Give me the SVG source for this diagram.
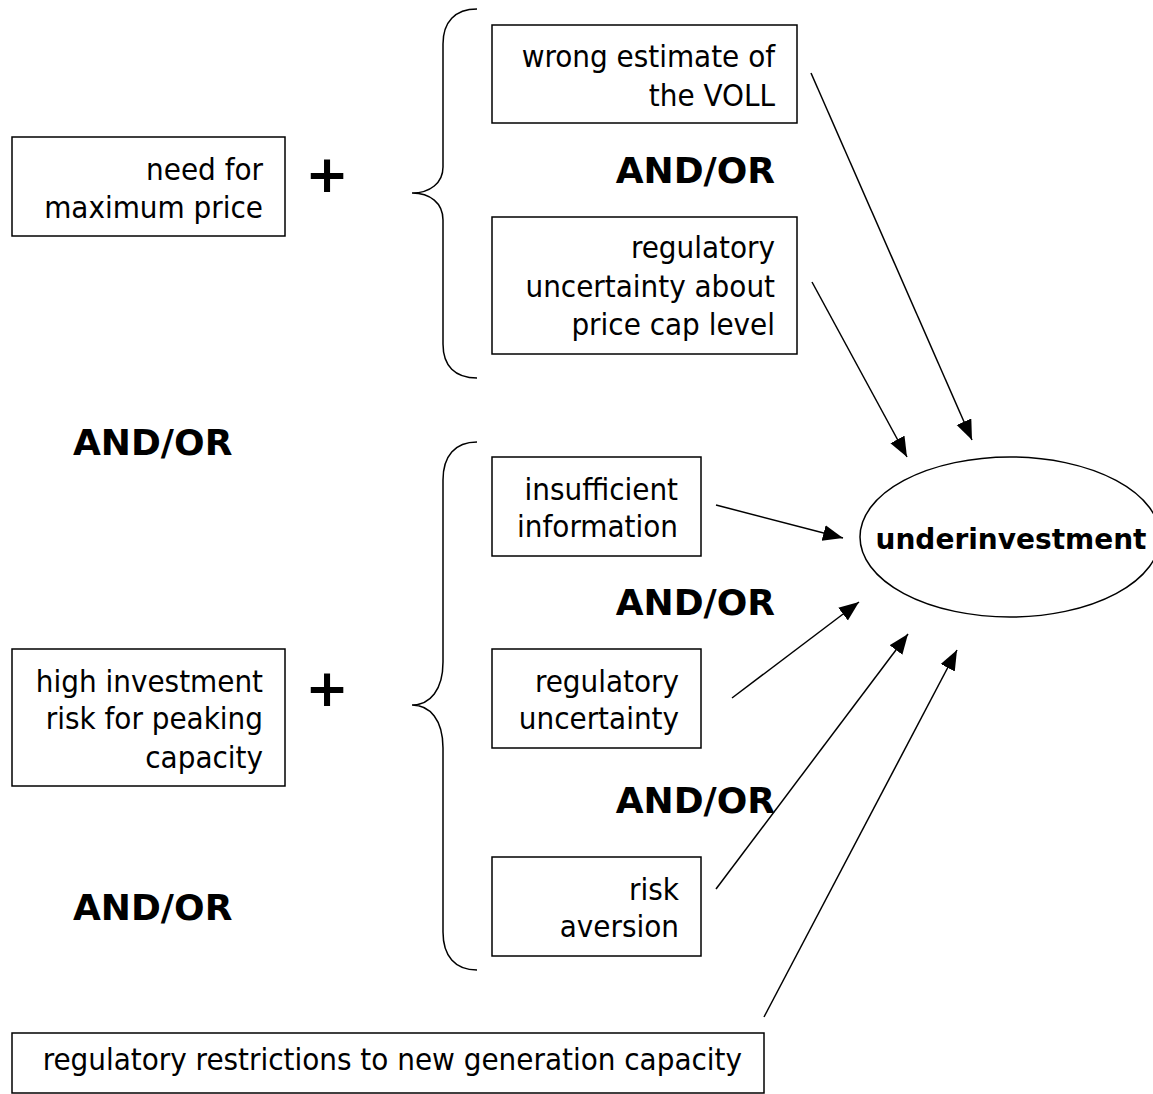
<svg xmlns="http://www.w3.org/2000/svg" width="1153" height="1094" viewBox="0 0 1153 1094">
<defs>
<marker id="ah" markerUnits="userSpaceOnUse" markerWidth="22" markerHeight="18" refX="20" refY="8" orient="auto">
<path d="M0,0 L20,8 L0,16 Z" fill="#000"/>
</marker>
<style>
.box{fill:#fff;stroke:#000;stroke-width:1.5}
.t{font-family:"DejaVu Sans Condensed","DejaVu Sans",sans-serif;font-stretch:condensed;font-size:31px;fill:#000;text-anchor:end}
.b{font-family:"DejaVu Sans","Liberation Sans",sans-serif;font-weight:bold;font-size:36px;fill:#000}
.plus{font-family:"DejaVu Sans",sans-serif;font-weight:bold;font-size:52px;fill:#000;text-anchor:middle}
.br{fill:none;stroke:#000;stroke-width:1.5}
.c{stroke:#000;stroke-width:1.5;fill:none;marker-end:url(#ah)}
</style>
</defs>
<rect width="1153" height="1094" fill="#fff"/>
<g id="brace1"><path class="br" d="M477,9 C455,9 443,22 443,44 L443,167 C443,183 430,193 412,193 C430,193 443,203 443,220 L443,344 C443,366 455,378 477,378"/></g>
<g id="brace2"><path class="br" d="M477,442 C455,442 443,456 443,480 L443,662 C443,690 430,705 412,705 C430,705 443,720 443,748 L443,932 C443,956 455,970 477,970"/></g>
<g id="need-max-price"><rect class="box" x="12" y="137" width="273" height="99"/><text class="t" x="263" y="180">need for</text><text class="t" x="263" y="218">maximum price</text></g>
<g id="plus1"><text class="plus" x="327" y="192">+</text></g>
<g id="voll"><rect class="box" x="492" y="25" width="305" height="98"/><text class="t" x="775" y="67">wrong estimate of</text><text class="t" x="775" y="106">the VOLL</text></g>
<g id="andor1"><text class="b" x="775" y="183" text-anchor="end">AND/OR</text></g>
<g id="price-cap"><rect class="box" x="492" y="217" width="305" height="137"/><text class="t" x="775" y="258">regulatory</text><text class="t" x="775" y="297">uncertainty about</text><text class="t" x="775" y="335">price cap level</text></g>
<g id="andor-left1"><text class="b" x="73" y="455">AND/OR</text></g>
<g id="high-risk"><rect class="box" x="12" y="649" width="273" height="137"/><text class="t" x="263" y="692">high investment</text><text class="t" x="263" y="729">risk for peaking</text><text class="t" x="263" y="768">capacity</text></g>
<g id="plus2"><text class="plus" x="327" y="706">+</text></g>
<g id="insufficient"><rect class="box" x="492" y="457" width="209" height="99"/><text class="t" x="678" y="500">insufficient</text><text class="t" x="678" y="537">information</text></g>
<g id="andor2"><text class="b" x="775" y="615" text-anchor="end">AND/OR</text></g>
<g id="reg-unc"><rect class="box" x="492" y="649" width="209" height="99"/><text class="t" x="679" y="692">regulatory</text><text class="t" x="679" y="729">uncertainty</text></g>
<g id="andor3"><text class="b" x="775" y="813" text-anchor="end">AND/OR</text></g>
<g id="risk-aversion"><rect class="box" x="492" y="857" width="209" height="99"/><text class="t" x="679" y="900">risk</text><text class="t" x="679" y="937">aversion</text></g>
<g id="andor-left2"><text class="b" x="73" y="920">AND/OR</text></g>
<g id="restrictions"><rect class="box" x="12" y="1033" width="752" height="60"/><text class="t" x="742" y="1070">regulatory restrictions to new generation capacity</text></g>
<g id="underinvestment"><ellipse cx="1010" cy="537" rx="150" ry="80" fill="#fff" stroke="#000" stroke-width="1.5"/><text x="1011" y="549" text-anchor="middle" style="font-family:'DejaVu Sans',sans-serif;font-weight:bold;font-size:28px">underinvestment</text></g>
<g id="connectors">
<line class="c" x1="811" y1="73" x2="972" y2="440"/>
<line class="c" x1="812" y1="282" x2="907" y2="457"/>
<line class="c" x1="716" y1="505" x2="843" y2="538"/>
<line class="c" x1="732" y1="698" x2="859" y2="602"/>
<line class="c" x1="716" y1="889" x2="908" y2="634"/>
<line class="c" x1="764" y1="1017" x2="957" y2="650"/>
</g>
</svg>
